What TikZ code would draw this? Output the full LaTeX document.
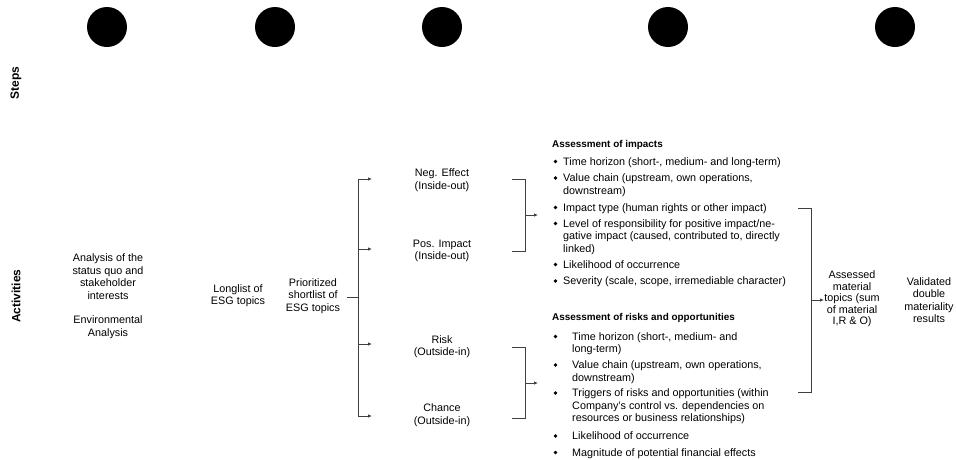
\documentclass[tikz,border=0pt]{standalone}
\usepackage{fontspec}
\setmainfont{Liberation Sans}
\usetikzlibrary{arrows.meta}
\begin{document}
\begin{tikzpicture}[x=1pt,y=-1pt,
  txt/.style={font=\fontsize{10.8}{12.5}\selectfont, inner sep=0pt, align=center},
  txtb/.style={font=\fontsize{10.8}{11.5}\selectfont, inner sep=0pt, align=center},
  lst/.style={font=\fontsize{10.8}{12.5}\selectfont, inner sep=0pt, align=left, anchor=north west},
  ttl/.style={font=\bfseries\fontsize{9.9}{12}\selectfont, inner sep=0pt, anchor=west},
  side/.style={font=\bfseries\fontsize{12}{14}\selectfont, rotate=90, inner sep=0pt},
  stepdot/.style={circle, fill=black, minimum size=40pt, inner sep=0pt},
  bul/.style={circle, fill=black, minimum size=3.8pt, inner sep=0pt},
  ln/.style={line width=0.9pt, draw=black!75},
  arr/.style={ln, -{Latex[length=4pt,width=3.5pt]}},
]
\useasboundingbox (0,0) rectangle (956,459);
% step dots
\node[stepdot] (s1) at (107,27) {};
\node[stepdot] (s2) at (275,27) {};
\node[stepdot] (s3) at (442,27) {};
\node[stepdot] (s4) at (668,27) {};
\node[stepdot] (s5) at (895,27) {};
% side labels
\node[side] (steps) at (16,83) {Steps};
\node[side] (acts) at (16,296) {Activities};
% column texts
\node[txt] (an1) at (108,276.5) {Analysis of the\\status quo and\\stakeholder\\interests};
\node[txt] (an2) at (108,327) {Environmental\\Analysis};
\node[txt] (ll) at (238,295.5) {Longlist of\\ESG topics};
\node[txt] (sl) at (313,296) {Prioritized\\shortlist of\\ESG topics};
\node[txt] (neg) at (442,180) {Neg. Effect\\(Inside-out)};
\node[txt] (pos) at (442,251) {Pos. Impact\\(Inside-out)};
\node[txt] (risk) at (442,346.5) {Risk\\(Outside-in)};
\node[txt] (chance) at (442,415) {Chance\\(Outside-in)};
\node[txtb] (assessed) at (852,299) {Assessed\\material\\topics (sum\\of material\\I,R \& O)};
\node[txt] (valid) at (929,300) {Validated\\double\\materiality\\results};
% tree
\coordinate (t0) at (347,297);
\coordinate (t1) at (358,297);
\coordinate (tv1) at (358,179);
\coordinate (tv2) at (358,249);
\coordinate (tv3) at (358,344);
\coordinate (tv4) at (358,416);
\coordinate (ta1) at (372,179);
\coordinate (ta2) at (372,249);
\coordinate (ta3) at (372,344);
\coordinate (ta4) at (372,416);
\draw[ln] (t0) -- (t1);
\draw[ln] (tv1) -- (tv4);
\draw[arr] (tv1) -- (ta1);
\draw[arr] (tv2) -- (ta2);
\draw[arr] (tv3) -- (ta3);
\draw[arr] (tv4) -- (ta4);
% upper bracket
\coordinate (ub1) at (512,179);
\coordinate (ub2) at (525,179);
\coordinate (ub3) at (525,251);
\coordinate (ub4) at (512,251);
\coordinate (um) at (525,215);
\coordinate (ue) at (538,215);
\draw[ln] (ub1) -- (ub2) -- (ub3) -- (ub4);
\draw[arr] (um) -- (ue);
% lower bracket
\coordinate (lb1) at (512,347);
\coordinate (lb2) at (525,347);
\coordinate (lb3) at (525,418);
\coordinate (lb4) at (512,418);
\coordinate (lm) at (525,383);
\coordinate (le) at (538,383);
\draw[ln] (lb1) -- (lb2) -- (lb3) -- (lb4);
\draw[arr] (lm) -- (le);
% big bracket
\coordinate (bb1) at (798,208);
\coordinate (bb2) at (811,208);
\coordinate (bb3) at (811,392);
\coordinate (bb4) at (798,392);
\coordinate (bm) at (811,300);
\coordinate (be) at (824,300);
\draw[ln] (bb1) -- (bb2) -- (bb3) -- (bb4);
\draw[arr] (bm) -- (be);
% impacts list
\node[ttl] (t1h) at (552,145) {Assessment of impacts};
\node[lst] (i1) at (563,157) {Time horizon (short-, medium- and long-term)};
\node[lst] (i2) at (563,173.5) {Value chain (upstream, own operations,\\downstream)};
\node[lst] (i3) at (563,203) {Impact type (human rights or other impact)};
\node[lst] (i4) at (563,219) {Level of responsibility for positive impact/ne-\\gative impact (caused, contributed to, directly\\linked)};
\node[lst] (i5) at (563,260) {Likelihood of occurrence};
\node[lst] (i6) at (563,276.5) {Severity (scale, scope, irremediable character)};
\node[bul] (b1) at (555.5,161.5) {};
\node[bul] (b2) at (555.5,178) {};
\node[bul] (b3) at (555.5,207.5) {};
\node[bul] (b4) at (555.5,223.5) {};
\node[bul] (b5) at (555.5,264.5) {};
\node[bul] (b6) at (555.5,281) {};
% risks list
\node[ttl] (t2h) at (552,318) {Assessment of risks and opportunities};
\node[lst] (r1) at (572,332) {Time horizon (short-, medium- and\\long-term)};
\node[lst] (r2) at (572,360.5) {Value chain (upstream, own operations,\\downstream)};
\node[lst] (r3) at (572,388.5) {Triggers of risks and opportunities (within\\Company's control vs. dependencies on\\resources or business relationships)};
\node[lst] (r4) at (572,431.5) {Likelihood of occurrence};
\node[lst] (r5) at (572,448) {Magnitude of potential financial effects};
\node[bul] (c1) at (555.5,336.5) {};
\node[bul] (c2) at (555.5,365) {};
\node[bul] (c3) at (555.5,393) {};
\node[bul] (c4) at (555.5,436) {};
\node[bul] (c5) at (555.5,452.5) {};
\end{tikzpicture}
\end{document}
